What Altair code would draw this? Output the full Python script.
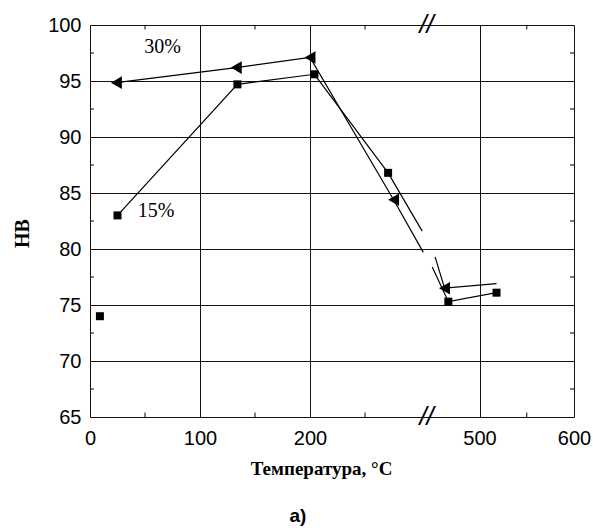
import altair as alt
import pandas as pd

# ---- data (x in the axis' own units: 0-300 | 440-600 after the break)
T15 = [25, 134, 204, 271, 302, 450, 467, 518]
HB15 = [83.0, 94.7, 95.6, 86.8, 81.6, 78.4, 75.3, 76.1]
SEG15 = ["a", "a", "a", "a", "a", "b", "b", "b"]
MARK15 = [1, 1, 1, 1, 0, 0, 1, 1]

T30 = [24, 133, 200, 276, 303, 453, 463, 518]
HB30 = [94.85, 96.2, 97.1, 84.4, 79.7, 79.3, 76.5, 76.9]
SEG30 = ["a", "a", "a", "a", "a", "b", "b", "b"]
MARK30 = [1, 1, 1, 1, 0, 0, 1, 0]

T_BASE = [9]
HB_BASE = [74.0]

X_TICKS = [0, 100, 200, 500, 600]
X_MINOR = [50, 150, 250, 550]
Y_TICKS = [65, 70, 75, 80, 85, 90, 95, 100]
Y_MINOR = [67.5, 72.5, 77.5, 82.5, 87.5, 92.5, 97.5]

LABELS = ["30%", "15%"]
LABEL_T = [66, 60]
LABEL_HB = [98.0, 83.4]

BREAK_T = [380, 380]
BREAK_HB = [100, 65]

df = pd.concat([
    pd.DataFrame({"t": T15, "hb": HB15, "seg": ["15" + s for s in SEG15], "mark": MARK15, "s": "15%"}),
    pd.DataFrame({"t": T30, "hb": HB30, "seg": ["30" + s for s in SEG30], "mark": MARK30, "s": "30%"}),
])
base_df = pd.DataFrame({"t": T_BASE, "hb": HB_BASE})
lab_df = pd.DataFrame({"t": LABEL_T, "hb": LABEL_HB, "txt": LABELS})
brk_df = pd.DataFrame({"t": BREAK_T, "hb": BREAK_HB, "txt": ["//", "//"]})

xminor_df = pd.concat([
    pd.DataFrame({"x": X_MINOR, "x2": X_MINOR, "y": 65, "y2": 65.4}),
    pd.DataFrame({"x": X_MINOR, "x2": X_MINOR, "y": 100, "y2": 99.6}),
    pd.DataFrame({"x": 0, "x2": 3.6, "y": Y_MINOR, "y2": Y_MINOR}),
    pd.DataFrame({"x": 600, "x2": 595.7, "y": Y_MINOR, "y2": Y_MINOR}),
])

xscale = alt.Scale(domain=[0, 306, 444, 600], range=[0, 336.6, 336.6, 484], nice=False, zero=False)
yscale = alt.Scale(domain=[65, 100], nice=False, zero=False)

xaxis = alt.Axis(values=X_TICKS, grid=True, gridColor="#111", gridWidth=1, ticks=False, domain=False,
                 labelFont="Liberation Sans", labelFontSize=20, labelColor="black", labelPadding=11,
                 labelFlush=False, labelOverlap=False,
                 title="Температура, °C", titleFont="Liberation Serif", titleFontWeight="bold",
                 titleFontSize=19, titleColor="black", titleX=231, titleY=51, titleBaseline="middle")
yaxis = alt.Axis(values=Y_TICKS, grid=True, gridColor="#111", gridWidth=1, ticks=False, domain=False,
                 labelFont="Liberation Sans", labelFontSize=20, labelColor="black", labelPadding=9,
                 title="HB", titleFont="Liberation Serif", titleFontWeight="bold", titleFontSize=20,
                 titleColor="black", titleX=-68, titleY=208, titleAngle=270, titleBaseline="middle",
                 titleAlign="center")

X = alt.X("t:Q", scale=xscale, axis=xaxis)
Y = alt.Y("hb:Q", scale=yscale, axis=yaxis)

lines = alt.Chart(df).mark_line(color="black", strokeWidth=1.2).encode(
    x=X, y=Y, detail="seg:N", order="t:Q")
sq = alt.Chart(df).transform_filter("datum.mark == 1 && datum.s == '15%'").mark_point(
    shape="square", filled=True, color="black", size=64, opacity=1).encode(x="t:Q", y="hb:Q")
tri = alt.Chart(df).transform_filter("datum.mark == 1 && datum.s == '30%'").mark_point(
    shape="triangle-left", filled=True, color="black", size=160, opacity=1).encode(x="t:Q", y="hb:Q")
base = alt.Chart(base_df).mark_point(shape="square", filled=True, color="black", size=64, opacity=1).encode(
    x="t:Q", y="hb:Q")
labels = alt.Chart(lab_df).mark_text(font="Liberation Serif", fontSize=20, color="black").encode(
    x="t:Q", y="hb:Q", text="txt:N")
minor = alt.Chart(xminor_df).mark_rule(color="black", strokeWidth=1).encode(
    x="x:Q", x2="x2:Q", y="y:Q", y2="y2:Q")
brk = alt.Chart(brk_df).mark_text(font="Liberation Sans", fontSize=26, color="black", fontStyle="italic").encode(
    x="t:Q", y="hb:Q", text="txt:N")

chart = alt.layer(lines, sq, tri, base, labels, minor, brk).properties(
    width=484, height=392,
    autosize=alt.AutoSizeParams(type="none"),
    padding={"left": 90, "top": 25, "right": 19, "bottom": 113},
    title=alt.TitleParams("а)", orient="bottom", anchor="middle", font="Liberation Sans",
                          fontWeight="bold", fontSize=19, color="black", dx=-34, offset=29),
).configure_view(stroke="black", strokeWidth=1.5).configure(background="white")

chart.save("out.html", embed_options={"renderer": "svg", "actions": False})
